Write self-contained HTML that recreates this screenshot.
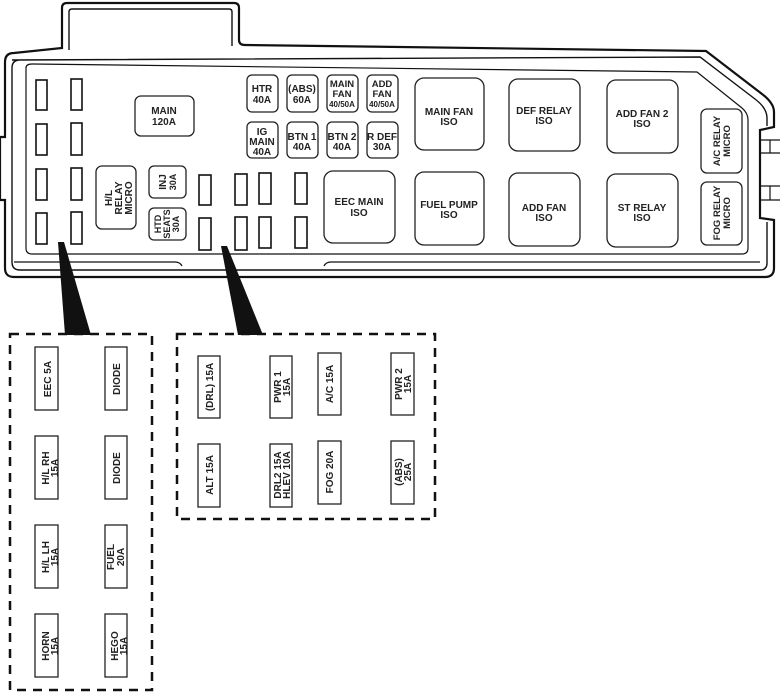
<!DOCTYPE html>
<html><head><meta charset="utf-8"><style>
html,body{margin:0;padding:0;background:#fff}
svg{display:block}
text{font-family:"Liberation Sans",Arial,sans-serif;font-weight:bold;fill:#222;text-anchor:middle}
</style></head><body>
<svg width="780" height="697" viewBox="0 0 780 697" xmlns="http://www.w3.org/2000/svg">
<g fill="none" stroke="#111">
<!-- housing outer -->
<path d="M62,48 L62,8 Q62,3 67,3 L234,3 Q239,3 239,8 L239,40 Q239,45 245,45 L706,51 L762,94 Q774,103 774,112 L774,127 L760,130 L760,218 L774,220 L774,268 Q774,277 765,277 L14,277 Q5,277 5,268 L5,200 L0,200 L0,137 L5,137 L5,62 Q5,53 14,53 Z" stroke-width="2.2"/>
<path d="M69,50 L69,12 Q69,9 72,9 L229,9 Q232,9 232,12 L232,46" stroke-width="1.4"/>
<path d="M12,60 L700,57 L755,99 Q767,108 767,118 L767,126 M767,222 L767,263 Q767,270 760,270 L20,270 Q12,270 12,262 L12,68 Q12,60 20,60" stroke-width="1.4"/>
<path d="M26,68 Q26,64 32,64 L697,72 L742,108 Q748,113 748,120 L748,248 Q748,254 742,254 L32,254 Q26,254 26,248 Z" stroke-width="1.2"/>
<path d="M14,262 L175,262 Q180,262 182,266 M324,266 Q326,262 331,262 L760,262" stroke-width="1.2"/>
<path d="M760,140 L780,140 M760,153 L780,153 M770,140 L770,153 M760,186 L780,186 M760,200 L780,200 M770,186 L770,200" stroke-width="1.2"/>
</g>
<g fill="#fff" stroke="#111" stroke-width="1.6">
<!-- left small fuses -->
<rect x="36" y="80" width="11" height="30"/><rect x="71" y="79" width="11" height="31"/>
<rect x="36" y="124" width="11" height="31"/><rect x="71" y="123" width="11" height="32"/>
<rect x="36" y="169" width="11" height="31"/><rect x="71" y="168" width="11" height="32"/>
<rect x="36" y="213" width="11" height="31"/><rect x="71" y="212" width="11" height="32"/>
<!-- mid small fuses -->
<rect x="199" y="175" width="12" height="30"/><rect x="199" y="218" width="12" height="32"/>
<rect x="235" y="174" width="12" height="31"/><rect x="235" y="217" width="12" height="33"/>
<rect x="259" y="173" width="12" height="31"/><rect x="259" y="217" width="12" height="31"/>
<rect x="295" y="173" width="12" height="31"/><rect x="295" y="217" width="12" height="31"/>
</g>
<g fill="#fff" stroke="#222" stroke-width="1.3">
<rect x="135" y="96" width="59" height="40" rx="6"/>
<rect x="247" y="75" width="31" height="37" rx="5"/><rect x="287" y="75" width="31" height="37" rx="5"/>
<rect x="327" y="75" width="31" height="37" rx="5"/><rect x="367" y="75" width="31" height="37" rx="5"/>
<rect x="247" y="122" width="31" height="36" rx="5"/><rect x="287" y="122" width="31" height="36" rx="5"/>
<rect x="327" y="122" width="31" height="36" rx="5"/><rect x="367" y="122" width="31" height="36" rx="5"/>
<rect x="96" y="166" width="40" height="63" rx="6"/>
<rect x="149" y="166" width="37" height="32" rx="5"/><rect x="149" y="208" width="37" height="32" rx="5"/>
<rect x="324" y="171" width="71" height="72" rx="9"/>
<rect x="415" y="78" width="69" height="72" rx="9"/><rect x="509" y="79" width="71" height="72" rx="9"/>
<rect x="607" y="80" width="71" height="73" rx="9"/>
<rect x="415" y="172" width="69" height="73" rx="9"/><rect x="509" y="173" width="71" height="73" rx="9"/>
<rect x="607" y="174" width="71" height="73" rx="9"/>
<rect x="701" y="109" width="41" height="64" rx="6"/><rect x="701" y="182" width="41" height="63" rx="6"/>
</g>
<g font-size="10">
<text x="164" y="114">MAIN</text><text x="164" y="125">120A</text>
<text x="262" y="92">HTR</text><text x="262" y="103">40A</text>
<text x="302" y="92">(ABS)</text><text x="302" y="103">60A</text>
<text x="342" y="87" font-size="9.5">MAIN</text><text x="342" y="97" font-size="9.5">FAN</text><text x="342" y="107" font-size="8">40/50A</text>
<text x="382" y="87" font-size="9.5">ADD</text><text x="382" y="97" font-size="9.5">FAN</text><text x="382" y="107" font-size="8">40/50A</text>
<text x="262" y="135">IG</text><text x="262" y="145">MAIN</text><text x="262" y="155">40A</text>
<text x="302" y="140">BTN 1</text><text x="302" y="150">40A</text>
<text x="342" y="140">BTN 2</text><text x="342" y="150">40A</text>
<text x="382" y="140">R DEF</text><text x="382" y="150">30A</text>
<text x="359" y="205">EEC MAIN</text><text x="359" y="216">ISO</text>
<text x="449" y="115">MAIN FAN</text><text x="449" y="125">ISO</text>
<text x="544" y="114">DEF RELAY</text><text x="544" y="124">ISO</text>
<text x="642" y="117">ADD FAN 2</text><text x="642" y="127">ISO</text>
<text x="449" y="208">FUEL PUMP</text><text x="449" y="218">ISO</text>
<text x="544" y="211">ADD FAN</text><text x="544" y="221">ISO</text>
<text x="642" y="211">ST RELAY</text><text x="642" y="221">ISO</text>
<text transform="translate(112,198) rotate(-90)">H/L</text>
<text transform="translate(122,198) rotate(-90)">RELAY</text>
<text transform="translate(132,198) rotate(-90)">MICRO</text>
<text transform="translate(166,182) rotate(-90)">INJ</text>
<text transform="translate(176,182) rotate(-90)" font-size="9">30A</text>
<text transform="translate(161,224) rotate(-90)" font-size="9">HTD</text>
<text transform="translate(170,224) rotate(-90)" font-size="9">SEATS</text>
<text transform="translate(179,224) rotate(-90)" font-size="9">30A</text>
<text transform="translate(720,141) rotate(-90)" font-size="9.5">A/C RELAY</text>
<text transform="translate(730,141) rotate(-90)" font-size="9.5">MICRO</text>
<text transform="translate(720,213) rotate(-90)" font-size="9.5">FOG RELAY</text>
<text transform="translate(730,213) rotate(-90)" font-size="9.5">MICRO</text>
</g>
<!-- wedges -->
<polygon points="58,242 64,242 91,335 65,335" fill="#111"/>
<polygon points="221,246 227,246 263,335 238,335" fill="#111"/>
<!-- dashed boxes -->
<g fill="none" stroke="#111" stroke-width="2.5" stroke-dasharray="9,7">
<rect x="10" y="334" width="142" height="356"/>
<rect x="177" y="334" width="258" height="185"/>
</g>
<g fill="#fff" stroke="#222" stroke-width="1.3">
<rect x="35" y="347" width="23" height="63"/><rect x="105" y="347" width="22" height="63"/>
<rect x="35" y="436" width="23" height="63"/><rect x="105" y="436" width="22" height="63"/>
<rect x="35" y="525" width="23" height="63"/><rect x="105" y="525" width="22" height="63"/>
<rect x="35" y="614" width="23" height="63"/><rect x="105" y="614" width="22" height="63"/>
<rect x="198" y="356" width="22" height="62"/><rect x="270" y="356" width="22" height="62"/>
<rect x="318" y="353" width="23" height="62"/><rect x="391" y="353" width="23" height="62"/>
<rect x="198" y="444" width="22" height="63"/><rect x="270" y="444" width="22" height="63"/>
<rect x="318" y="441" width="23" height="63"/><rect x="391" y="441" width="23" height="63"/>
</g>
<g font-size="10">
<text transform="translate(51,379) rotate(-90)">EEC 5A</text>
<text transform="translate(120,379) rotate(-90)">DIODE</text>
<text transform="translate(49,468) rotate(-90)">H/L RH</text><text transform="translate(58,468) rotate(-90)">15A</text>
<text transform="translate(120,468) rotate(-90)">DIODE</text>
<text transform="translate(49,557) rotate(-90)">H/L LH</text><text transform="translate(58,557) rotate(-90)">15A</text>
<text transform="translate(114,557) rotate(-90)">FUEL</text><text transform="translate(124,557) rotate(-90)">20A</text>
<text transform="translate(49,646) rotate(-90)">HORN</text><text transform="translate(58,646) rotate(-90)">15A</text>
<text transform="translate(118,646) rotate(-90)">HEGO</text><text transform="translate(127,646) rotate(-90)">15A</text>
<text transform="translate(213,387) rotate(-90)">(DRL) 15A</text>
<text transform="translate(281,387) rotate(-90)">PWR 1</text><text transform="translate(290,387) rotate(-90)">15A</text>
<text transform="translate(333,384) rotate(-90)">A/C 15A</text>
<text transform="translate(402,384) rotate(-90)">PWR 2</text><text transform="translate(411,384) rotate(-90)">15A</text>
<text transform="translate(213,475) rotate(-90)">ALT 15A</text>
<text transform="translate(281,475) rotate(-90)">DRL2 15A</text><text transform="translate(290,475) rotate(-90)">HLEV 10A</text>
<text transform="translate(333,472) rotate(-90)">FOG 20A</text>
<text transform="translate(402,472) rotate(-90)">(ABS)</text><text transform="translate(411,472) rotate(-90)">25A</text>
</g>
</svg>
</body></html>
